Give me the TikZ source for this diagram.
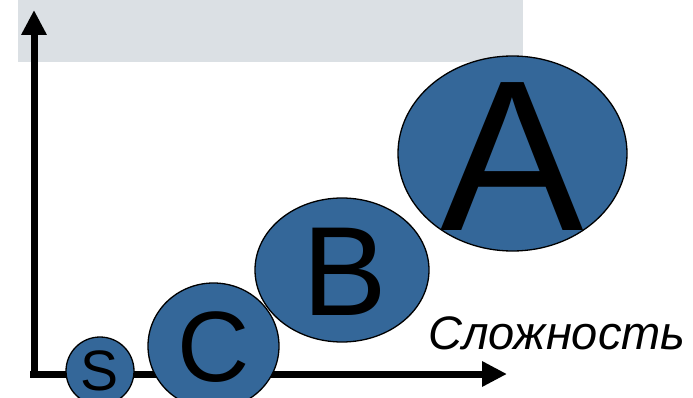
\documentclass[tikz,border=0pt]{standalone}
\usepackage{fontspec}
\setmainfont{Liberation Sans}
\usetikzlibrary{shapes.geometric,arrows.meta}

\definecolor{blobblue}{RGB}{52,103,153}
\definecolor{panelgray}{RGB}{219,224,228}

\tikzset{
  axis/.style={line width=7pt,-{Triangle[length=25pt,width=24pt]}},
  blob/.style={draw,ellipse,fill=blobblue,line width=1.3pt,inner sep=0pt},
  letter/.style={inner sep=0pt}
}

\begin{document}
\begin{tikzpicture}[x=1pt,y=-1pt]
  \useasboundingbox (0,0) rectangle (693,398);

  % Background panel
  \fill[panelgray] (18,0) rectangle (523,62);

  % Axes
  \coordinate (origin) at (34,378);
  \coordinate (ytip) at (34,10);
  \coordinate (xstart) at (30,374);
  \coordinate (xtip) at (507,374);
  \draw[axis] (origin) -- (ytip);
  \draw[axis] (xstart) -- (xtip);

  % Bubbles
  \node[blob,minimum width=68pt,minimum height=68pt]   (s) at (100,371) {};
  \node[blob,minimum width=131pt,minimum height=126pt] (c) at (213.5,346) {};
  \node[blob,minimum width=174pt,minimum height=144pt] (b) at (342,270) {};
  \node[blob,minimum width=229pt,minimum height=195pt] (a) at (512.5,153.5) {};

  \begin{scope}[every node/.style={letter}]
    \node (slabel) at ([yshift=0pt]s.center) {\fontsize{57}{57}\selectfont S};
    \node (clabel) at ([yshift=-1pt]c.center) {\fontsize{100}{100}\selectfont C};
    \node (blabel) at ([xshift=3pt,yshift=-2pt]b.center) {\fontsize{127}{127}\selectfont B};
    \node (alabel) at ([yshift=-3pt]a.center) {\fontsize{215}{215}\selectfont A};
  \end{scope}

  % Axis caption
  \node[letter,anchor=base west] (xlabel) at (428,349) {\fontsize{47}{47}\selectfont\itshape Сложность};

\end{tikzpicture}
\end{document}
